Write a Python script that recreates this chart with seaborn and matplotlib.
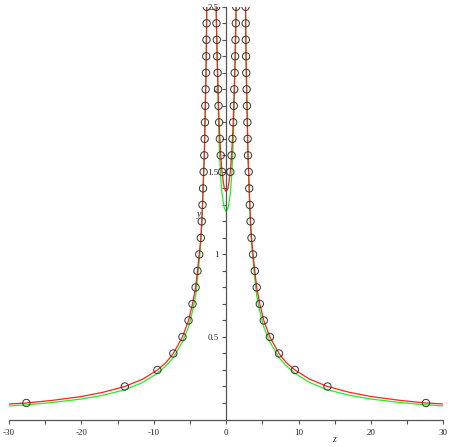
import numpy as np
import pandas as pd
import matplotlib
matplotlib.use("Agg")
import matplotlib.pyplot as plt
import seaborn as sns

# ---- data (positive-x side; curves are mirror-symmetric) ----
red_outer_x = [2.68, 2.70, 2.72, 2.75, 2.78, 2.83, 2.88, 2.93, 2.97, 3.02, 3.11, 3.19, 3.27,
               3.37, 3.50, 3.72, 3.96, 4.22, 4.65, 5.20, 6.04, 7.30, 8.30, 9.50, 11.5, 14.0,
               17.0, 20.0, 24.0, 27.6, 30.0]
red_outer_y = [2.50, 2.40, 2.30, 2.20, 2.10, 2.00, 1.90, 1.80, 1.70, 1.60, 1.50, 1.40, 1.30,
               1.20, 1.10, 1.00, 0.90, 0.80, 0.70, 0.60, 0.50, 0.40, 0.345, 0.30, 0.245, 0.20,
               0.165, 0.139, 0.116, 0.100, 0.094]

green_outer_x = [2.68, 2.75, 2.83, 2.93, 3.02, 3.11, 3.19, 3.27, 3.37, 3.50, 3.72, 3.96, 4.22,
                 4.65, 5.20, 6.04, 7.30, 8.30, 9.50, 11.5, 14.0, 17.0, 20.0, 24.0, 27.6, 30.0]
green_outer_y = [2.50, 2.22, 2.00, 1.79, 1.58, 1.48, 1.38, 1.28, 1.17, 1.07, 0.96, 0.85, 0.75,
                 0.655, 0.56, 0.47, 0.375, 0.325, 0.28, 0.225, 0.18, 0.147, 0.124, 0.103, 0.089, 0.082]

red_inner_x = [0.0, 0.25, 0.40, 0.50, 0.58, 0.75, 0.87, 0.97, 1.05, 1.12, 1.18, 1.24, 1.29, 1.34, 1.38]
red_inner_y = [1.38, 1.40, 1.44, 1.48, 1.50, 1.60, 1.70, 1.80, 1.90, 2.00, 2.10, 2.20, 2.30, 2.40, 2.50]

green_inner_x = [0.0, 0.25, 0.45, 0.60, 0.80, 0.95, 1.05, 1.15, 1.25, 1.32, 1.38]
green_inner_y = [1.26, 1.28, 1.33, 1.38, 1.50, 1.65, 1.80, 2.00, 2.20, 2.35, 2.50]

marker_outer_y = [0.1, 0.2, 0.3, 0.4, 0.5, 0.6, 0.7, 0.8, 0.9, 1.0, 1.1, 1.2, 1.3, 1.4, 1.5,
                  1.6, 1.7, 1.8, 1.9, 2.0, 2.1, 2.2, 2.3, 2.4, 2.5]
marker_outer_x = [27.6, 14.0, 9.5, 7.3, 6.04, 5.2, 4.65, 4.22, 3.96, 3.72, 3.5, 3.37, 3.27, 3.19,
                  3.11, 3.02, 2.97, 2.93, 2.88, 2.83, 2.78, 2.75, 2.72, 2.70, 2.68]
marker_inner_y = [1.5, 1.6, 1.7, 1.8, 1.9, 2.0, 2.1, 2.2, 2.3, 2.4, 2.5]
marker_inner_x = [0.58, 0.75, 0.87, 0.97, 1.05, 1.12, 1.18, 1.24, 1.29, 1.34, 1.38]

x_ticks = [-30, -20, -10, 0, 10, 20, 30]
x_tick_labels = ["-30", "-20", "-10", "0", "10", "20", "30"]
y_ticks = [0.5, 1.0, 1.5, 2.0, 2.5]
y_tick_labels = ["0.5", "1", "1.5", "2", "2.5"]

# ---- build tables ----
def branch_frame(xs, ys, name):
    rows = []
    for side, sgn in (("L", -1), ("R", 1)):
        for i, (x, y) in enumerate(zip(xs, ys)):
            rows.append({"x": sgn * x, "y": y, "seg": f"{name}-{side}", "order": i})
    return pd.DataFrame(rows)

red_outer = branch_frame(red_outer_x, red_outer_y, "ro")
green_outer = branch_frame(green_outer_x, green_outer_y, "go")
red_u = pd.DataFrame({"x": [-v for v in red_inner_x[::-1]] + red_inner_x[1:],
                      "y": red_inner_y[::-1] + red_inner_y[1:]})
green_u = pd.DataFrame({"x": [-v for v in green_inner_x[::-1]] + green_inner_x[1:],
                        "y": green_inner_y[::-1] + green_inner_y[1:]})

mk_x = [-v for v in marker_outer_x] + marker_outer_x + [-v for v in marker_inner_x] + marker_inner_x
mk_y = marker_outer_y * 2 + marker_inner_y * 2
markers = pd.DataFrame({"x": mk_x, "y": mk_y})

# ---- plot ----
sns.set_style("white")
plt.rcParams["font.family"] = ["Liberation Serif", "DejaVu Serif"]

fig = plt.figure(figsize=(4.5, 4.47), dpi=100)
ax = fig.add_axes([9 / 450, 27.5 / 447, 434.3 / 450, 412.7 / 447])

RED = "#ff2020"
GREEN = "#22ee22"
lw = 0.9

for seg, d in green_outer.groupby("seg"):
    sns.lineplot(data=d, x="x", y="y", sort=False, estimator=None, color=GREEN, lw=lw, ax=ax)
sns.lineplot(data=green_u, x="x", y="y", sort=False, estimator=None, color=GREEN, lw=lw, ax=ax)
for seg, d in red_outer.groupby("seg"):
    sns.lineplot(data=d, x="x", y="y", sort=False, estimator=None, color=RED, lw=lw, ax=ax)
sns.lineplot(data=red_u, x="x", y="y", sort=False, estimator=None, color=RED, lw=lw, ax=ax)

sns.scatterplot(data=markers, x="x", y="y", marker="o", s=28, facecolors="none",
                edgecolor="#333333", linewidth=0.7, ax=ax, zorder=5)

ax.set_xlim(-30, 30)
ax.set_ylim(0, 2.5)

for s in ("top", "right"):
    ax.spines[s].set_visible(False)
ax.spines["left"].set_position(("data", 0))
ax.spines["bottom"].set_position(("data", 0))
for s in ("left", "bottom"):
    ax.spines[s].set_color("#555555")
    ax.spines[s].set_linewidth(0.9)

ax.set_xticks(x_ticks)
ax.set_xticklabels(x_tick_labels)
ax.set_xticks([-25, -15, -5, 5, 15, 25], minor=True)
ax.set_yticks(y_ticks)
ax.set_yticklabels(y_tick_labels)
ax.set_yticks([0.1, 0.2, 0.3, 0.4, 0.6, 0.7, 0.8, 0.9, 1.1, 1.2, 1.3, 1.4,
               1.6, 1.7, 1.8, 1.9, 2.1, 2.2, 2.3, 2.4], minor=True)

ax.tick_params(axis="x", which="both", direction="out", length=3, width=0.8,
               color="#555555", labelsize=6.5, pad=3.5, bottom=True)
ax.tick_params(axis="y", which="both", direction="out", length=3, width=0.8,
               color="#555555", labelsize=6.5, pad=2.5, left=True)

ax.set_xlabel("")
ax.set_ylabel("")
ax.text(14.9, -0.124, "z", style="italic", fontsize=7, ha="center", va="center", clip_on=False)
ax.text(-3.7, 1.24, "y", style="italic", fontsize=7, ha="center", va="center", clip_on=False)

fig.savefig("out.png", dpi=100)
